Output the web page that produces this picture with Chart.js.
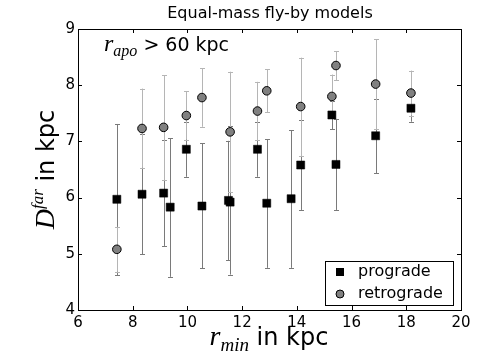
<!DOCTYPE html>
<html>
<head>
<meta charset="utf-8">
<script src="https://cdn.jsdelivr.net/npm/chart.js@4/dist/chart.umd.min.js"></script>
<style>
  html, body { margin: 0; padding: 0; background: #fff; }
  #wrap { width: 480px; height: 362px; position: relative; }
</style>
</head>
<body>
<div id="wrap"><canvas id="chart" width="480" height="362"></canvas></div>
<script>
// r_min (kpc) and D^far (kpc), with error bar ends
const progradeX  = [7.42, 8.34, 9.13, 9.37, 9.96, 10.53, 11.50, 11.56, 12.56, 12.90, 13.79, 14.14, 15.28, 15.43, 16.88, 18.17];
const progradeY  = [5.97, 6.06, 6.08, 5.83, 6.86, 5.85, 5.95, 5.92, 6.86, 5.90, 5.98, 6.58, 7.47, 6.59, 7.10, 7.59];
const progradeLo = [4.62, 4.99, 5.14, 4.59, 6.37, 4.74, 4.89, 4.63, 6.37, 4.75, 4.75, 5.78, 7.22, 5.78, 6.43, 7.35];
const progradeHi = [7.31, 7.13, 7.02, 7.06, 7.35, 6.97, 7.01, 7.27, 7.35, 7.04, 7.20, 7.38, 7.72, 7.40, 7.75, 7.83];

const retroX  = [7.42, 8.34, 9.13, 9.96, 10.53, 11.56, 12.56, 12.90, 14.14, 15.28, 15.43, 16.88, 18.17];
const retroY  = [5.08, 7.23, 7.25, 7.46, 7.78, 7.17, 7.54, 7.90, 7.62, 7.80, 8.35, 8.02, 7.86];
const retroLo = [4.68, 6.53, 6.31, 7.03, 7.26, 6.10, 7.02, 7.52, 6.74, 7.41, 8.09, 7.22, 7.46];
const retroHi = [5.48, 7.94, 8.18, 7.89, 8.30, 8.24, 8.06, 8.28, 8.49, 8.19, 8.60, 8.82, 8.26];

const xTicks = [6, 8, 10, 12, 14, 16, 18, 20];
const yTicks = [4, 5, 6, 7, 8, 9];

const SANS = "'DejaVu Sans', sans-serif";
const SERIF = "'Liberation Serif', serif";

function toPoints(xs, ys) {
    return xs.map((x, i) => ({ x: x, y: ys[i] }));
}

// draws a run of text pieces (font + vertical shift) starting at x
function drawRun(ctx, parts, x, y, align) {
    let total = 0;
    parts.forEach(p => { ctx.font = p.font; total += ctx.measureText(p.text).width; });
    let cx = align === 'center' ? x - total / 2 : x;
    parts.forEach(p => {
        ctx.font = p.font;
        ctx.fillText(p.text, cx, y + (p.dy || 0));
        cx += ctx.measureText(p.text).width;
    });
}

const errorBars = {
    id: 'errorBars',
    beforeDatasetsDraw(chart) {
        const ctx = chart.ctx;
        const xs = chart.scales.x, ys = chart.scales.y;
        const sets = [
            { x: progradeX, lo: progradeLo, hi: progradeHi, color: '#7a7a7a' },
            { x: retroX, lo: retroLo, hi: retroHi, color: '#b5b5b5' }
        ];
        ctx.save();
        ctx.lineWidth = 1;
        sets.forEach(s => {
            ctx.strokeStyle = s.color;
            s.x.forEach((xv, i) => {
                const px = Math.round(xs.getPixelForValue(xv)) + 0.5;
                const top = ys.getPixelForValue(s.hi[i]);
                const bot = ys.getPixelForValue(s.lo[i]);
                ctx.beginPath();
                ctx.moveTo(px, top); ctx.lineTo(px, bot);
                ctx.moveTo(px - 2.5, Math.round(top) + 0.5); ctx.lineTo(px + 2.5, Math.round(top) + 0.5);
                ctx.moveTo(px - 2.5, Math.round(bot) + 0.5); ctx.lineTo(px + 2.5, Math.round(bot) + 0.5);
                ctx.stroke();
            });
        });
        ctx.restore();
    }
};

const frameAndText = {
    id: 'frameAndText',
    afterDraw(chart) {
        const ctx = chart.ctx;
        const a = chart.chartArea;
        const xs = chart.scales.x, ys = chart.scales.y;
        ctx.save();
        ctx.strokeStyle = '#000';
        ctx.lineWidth = 1;
        // inward ticks on all four sides
        ctx.beginPath();
        xTicks.forEach(v => {
            const px = Math.round(xs.getPixelForValue(v)) + 0.5;
            ctx.moveTo(px, a.bottom); ctx.lineTo(px, a.bottom - 4);
            ctx.moveTo(px, a.top); ctx.lineTo(px, a.top + 4);
        });
        yTicks.forEach(v => {
            const py = Math.round(ys.getPixelForValue(v)) + 0.5;
            ctx.moveTo(a.left, py); ctx.lineTo(a.left + 4, py);
            ctx.moveTo(a.right, py); ctx.lineTo(a.right - 4, py);
        });
        ctx.stroke();
        ctx.strokeRect(Math.round(a.left) + 0.5, Math.round(a.top) + 0.5,
                       Math.round(a.right - a.left), Math.round(a.bottom - a.top));

        ctx.fillStyle = '#000';
        ctx.textBaseline = 'alphabetic';
        ctx.textAlign = 'left';

        // title
        drawRun(ctx, [{ text: 'Equal-mass fly-by models', font: '16px ' + SANS }], 270, 18, 'center');

        // annotation
        drawRun(ctx, [
            { text: 'r', font: 'italic 24px ' + SERIF },
            { text: 'apo', font: 'italic 16px ' + SERIF, dy: 5 },
            { text: ' > 60 kpc', font: '19px ' + SANS }
        ], 104, 51, 'left');

        // x axis label
        drawRun(ctx, [
            { text: 'r', font: 'italic 28px ' + SERIF },
            { text: 'min', font: 'italic 19px ' + SERIF, dy: 6 },
            { text: ' in kpc', font: '24px ' + SANS }
        ], 269, 345, 'center');

        // y axis label
        ctx.translate(54, 169.5);
        ctx.rotate(-Math.PI / 2);
        drawRun(ctx, [
            { text: 'D', font: 'italic 28px ' + SERIF },
            { text: 'far', font: 'italic 17px ' + SERIF, dy: -11 },
            { text: ' in kpc', font: '24px ' + SANS }
        ], 0, 0, 'center');
        ctx.setTransform(1, 0, 0, 1, 0, 0);

        // legend
        const lx = 325.5, ly = 261.5, lw = 128, lh = 44;
        ctx.fillStyle = '#fff';
        ctx.fillRect(lx, ly, lw, lh);
        ctx.strokeRect(lx, ly, lw, lh);
        ctx.fillStyle = '#000';
        ctx.fillRect(336, 268, 8, 8);
        ctx.beginPath();
        ctx.arc(340, 294, 4, 0, Math.PI * 2);
        ctx.fillStyle = '#808080';
        ctx.fill();
        ctx.stroke();
        ctx.fillStyle = '#000';
        ctx.textBaseline = 'middle';
        ctx.font = '16px ' + SANS;
        ctx.fillText('prograde', 358, 272);
        ctx.fillText('retrograde', 358, 294);
        ctx.restore();
    }
};

const ctx = document.getElementById('chart').getContext('2d');
new Chart(ctx, {
    type: 'scatter',
    data: {
        datasets: [{
            label: 'prograde',
            data: toPoints(progradeX, progradeY),
            pointStyle: 'rect',
            pointRadius: 5.7,
            backgroundColor: '#000',
            borderColor: '#000',
            borderWidth: 0.5
        }, {
            label: 'retrograde',
            data: toPoints(retroX, retroY),
            pointStyle: 'circle',
            pointRadius: 4.3,
            backgroundColor: '#808080',
            borderColor: '#000',
            borderWidth: 1
        }]
    },
    options: {
        responsive: false,
        animation: false,
        events: [],
        layout: { padding: { top: 29, right: 19, left: 0, bottom: 0 } },
        plugins: {
            legend: { display: false },
            tooltip: { enabled: false },
            title: { display: false }
        },
        scales: {
            x: {
                type: 'linear',
                min: 6, max: 20,
                afterFit: s => { s.height = 52; },
                afterBuildTicks: s => { s.ticks = xTicks.map(v => ({ value: v })); },
                grid: { display: false, drawTicks: false },
                border: { display: false },
                ticks: { color: '#000', padding: 4, maxRotation: 0, font: { family: SANS, size: 15 } }
            },
            y: {
                type: 'linear',
                min: 4, max: 9,
                afterFit: s => { s.width = 78; },
                afterBuildTicks: s => { s.ticks = yTicks.map(v => ({ value: v })); },
                grid: { display: false, drawTicks: false },
                border: { display: false },
                ticks: { color: '#000', padding: 3, font: { family: SANS, size: 15 } }
            }
        }
    },
    plugins: [errorBars, frameAndText]
});
</script>
</body>
</html>
